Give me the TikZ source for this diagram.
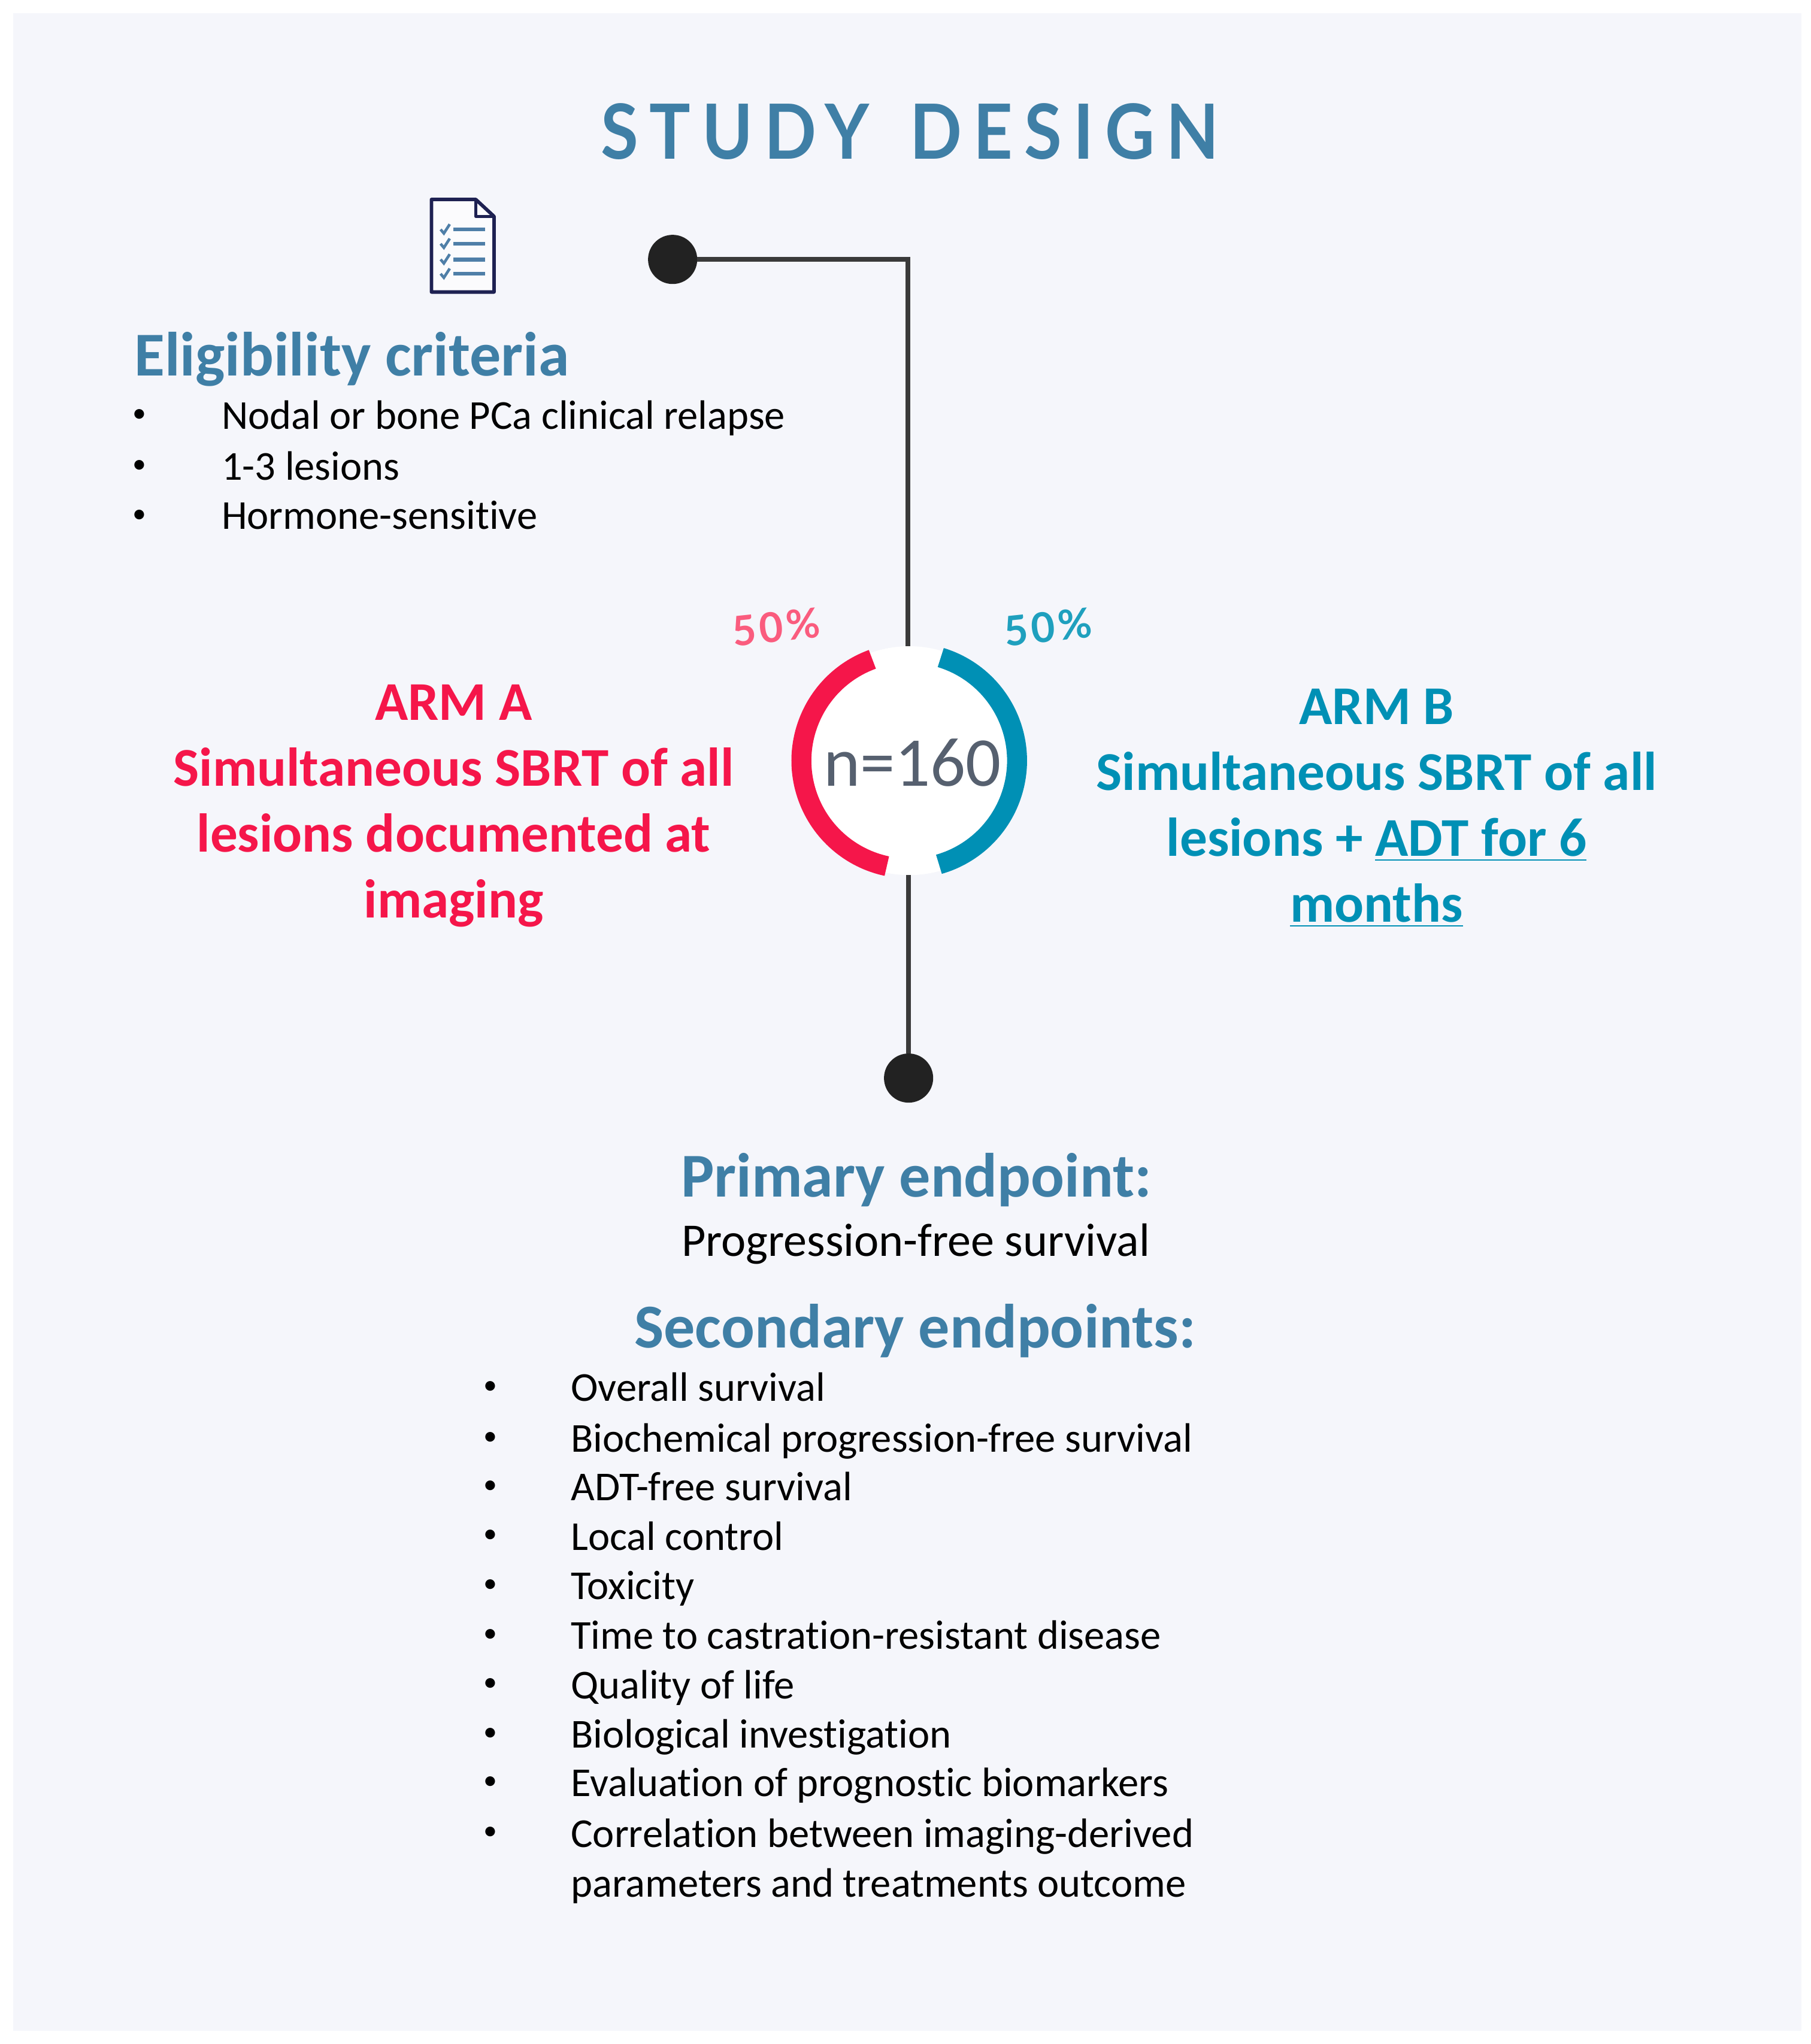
\documentclass[tikz,border=0pt]{standalone}
\usepackage{fontspec}
\setmainfont{Carlito}[Ligatures=NoCommon]
\newfontfamily\titlefont[LetterSpace=15,FakeStretch=0.9]{Lato}
\newfontfamily\pctfont[LetterSpace=8]{Lato}
\definecolor{bgc}{HTML}{F5F6FB}
\definecolor{headblue}{HTML}{3F7FA6}
\definecolor{armred}{HTML}{F5164A}
\definecolor{armblue}{HTML}{0090B5}
\definecolor{pctred}{HTML}{FA5C7E}
\definecolor{pctblue}{HTML}{1FA0BE}
\definecolor{ngrey}{HTML}{56606F}
\definecolor{linedark}{HTML}{3A3A3A}
\definecolor{dotdark}{HTML}{222222}
\definecolor{iconnavy}{HTML}{1E2152}
\definecolor{iconblue}{HTML}{4F7FA8}
\tikzset{
  txt/.style={inner sep=0pt,outer sep=0pt,anchor=base west,text=black,font=\fontsize{16.45}{19}\selectfont},
  bul/.style={inner sep=0pt,outer sep=0pt,anchor=center,text=black,font=\fontsize{11}{13}\selectfont},
  head/.style={inner sep=0pt,outer sep=0pt,anchor=base,text=headblue,font=\fontsize{25}{30}\selectfont\bfseries},
  armtext/.style={inner sep=0pt,outer sep=0pt,align=center,font=\fontsize{21.9}{26.4}\selectfont\bfseries},
  blob/.style={circle,fill=dotdark,minimum size=19.7pt,inner sep=0pt,outer sep=0pt},
  conn/.style={draw=linedark,line width=1.8pt},
  ringarc/.style={line width=8pt}
}
\begin{document}
\begin{tikzpicture}[x=0.5223pt,y=-0.5223pt]
\useasboundingbox (0,0) rectangle (1389,1568);
\fill[bgc] (10,10) rectangle (1382,1558);

\node[inner sep=0pt,anchor=center,text=headblue,font=\titlefont\fontsize{30.5}{36}\selectfont\bfseries] (title) at (698,101) {STUDY\hspace{5pt} DESIGN};

% icon
\draw[iconnavy,line width=1.4pt,line join=round,fill=bgc!40!white] (331,153) -- (365,153) -- (379,166) -- (379,224) -- (331,224) -- cycle;
\draw[iconnavy,line width=1.1pt,line join=round] (365,153) -- (365,166) -- (379,166);
\foreach \yy in {176,187,199,210}{
  \draw[iconblue,line width=1.6pt] (348,\yy) -- (372,\yy);
  \draw[iconblue,line width=1.1pt] (338,\yy) -- (340.5,\yy+3) -- (345,\yy-4);
}

% connectors
\node[circle,fill=white,minimum size=91.7pt,inner sep=0pt,outer sep=0pt] (ring) at (697.5,583.5) {};
\node[blob] (startdot) at (516,199) {};
\node[blob] (enddot) at (697,827) {};
\coordinate (corner) at (696.5,199);
\draw[conn] (startdot) -- (corner) -- (ring.north -| corner);
\draw[conn] (ring.south -| enddot) -- (enddot);

% ring
\draw[ringarc,armred] (ring.center) ++(110:82.7 and -82.7) arc[start angle=-110,end angle=-258,radius=82.7];
\draw[ringarc,armblue] (ring.center) ++(73:82.7 and -82.7) arc[start angle=-73,end angle=74,radius=82.7];
\node[inner sep=0pt,text=ngrey,font=\fontsize{28}{30}\selectfont] (n) at (700,585) {n=160};
\node[inner sep=0pt,text=pctred,rotate=6,font=\pctfont\fontsize{16.5}{19}\selectfont\bfseries] (pa) at (595.5,481) {50\%};
\node[inner sep=0pt,text=pctblue,rotate=6,font=\pctfont\fontsize{16.5}{19}\selectfont\bfseries] (pb) at (804,481) {50\%};

% eligibility
\node[head,anchor=base west] (elig) at (103,288.5) {Eligibility criteria};
\foreach \nm/\yy/\tt in {e1/329/Nodal or bone PCa clinical relapse,e2/368/1-3 lesions,e3/406/Hormone-sensitive}{
  \node[bul] (b\nm) at (107,\yy-10) {•};
  \node[txt] (\nm) at (170,\yy) {\tt};
}

% arms
\node[armtext,text=armred] (arma) at (348,618) {ARM A\\Simultaneous SBRT of all\\lesions documented at\\imaging};
\node[armtext,text=armblue] (armb) at (1056,620) {ARM B\\Simultaneous SBRT of all\\lesions + \underline{ADT for 6}\\\underline{months}};

% endpoints
\node[head] (prim) at (703,918) {Primary endpoint:};
\node[txt,anchor=base,font=\fontsize{18.75}{22}\selectfont] (pfs) at (702.5,963.5) {Progression-free survival};
\node[head] (sec) at (702,1034) {Secondary endpoints:};
\foreach \nm/\yy/\tt in {s1/1075/Overall survival,s2/1114/Biochemical progression-free survival,s3/1151/ADT-free survival,s4/1189/Local control,s5/1227/Toxicity,s6/1265/Time to castration-resistant disease,s7/1303/Quality of life,s8/1341/Biological investigation,s9/1378/Evaluation of prognostic biomarkers,s10/1417/Correlation between imaging-derived}{
  \node[bul] (b\nm) at (376,\yy-10.5) {•};
  \node[txt] (\nm) at (438,\yy) {\tt};
}
\node[txt] (s11) at (438,1455) {parameters and treatments outcome};
\end{tikzpicture}
\end{document}
